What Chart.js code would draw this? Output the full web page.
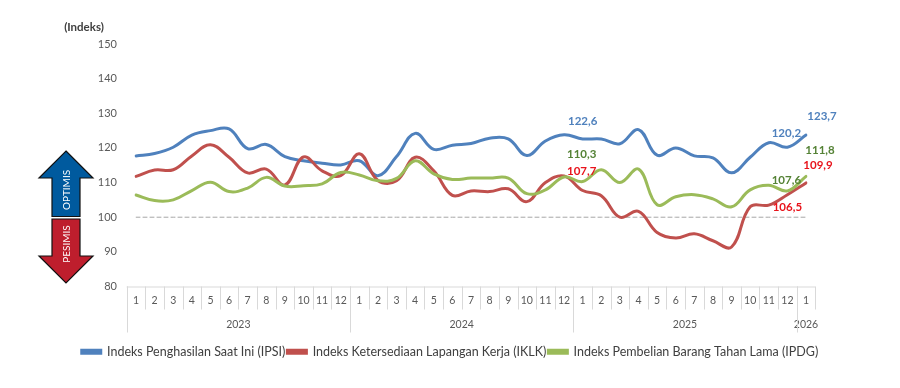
<!DOCTYPE html>
<html lang="id">

<head>
    <meta charset="UTF-8">
    <title>Indeks Keyakinan Konsumen</title>
    <script src="https://cdn.jsdelivr.net/npm/chart.js"></script>
    <style>
        html, body { margin: 0; padding: 0; background: #fff; }
        canvas { display: block; }
    </style>
</head>

<body>
    <canvas id="chart" width="900" height="388"></canvas>

    <script>
        const months = [
            '1', '2', '3', '4', '5', '6', '7', '8', '9', '10', '11', '12',
            '1', '2', '3', '4', '5', '6', '7', '8', '9', '10', '11', '12',
            '1', '2', '3', '4', '5', '6', '7', '8', '9', '10', '11', '12',
            '1'
        ];
        const years = ['2023', '2024', '2025', '2026'];
        const monthsPerYear = [12, 12, 12, 1];

        const ipsi = [
            117.7, 118.4, 120.2, 123.7, 125.0, 125.5, 119.8, 121.0, 117.5, 116.3, 115.6, 115.1,
            116.3, 112.0, 117.5, 124.2, 119.6, 120.8, 121.3, 122.8, 122.6, 117.8, 122.0, 123.8,
            122.6, 122.6, 121.2, 125.3, 117.9, 120.0, 117.7, 117.1, 112.8, 117.3, 121.5, 120.2,
            123.7
        ];
        const iklk = [
            111.8, 113.6, 113.7, 117.7, 120.9, 117.3, 112.8, 113.9, 109.3, 117.4, 113.4, 112.0,
            118.3, 110.6, 110.5, 117.3, 113.4, 106.3, 107.6, 107.4, 108.2, 104.5, 110.0, 111.9,
            107.7, 106.2, 100.0, 101.7, 95.6, 94.0, 95.2, 93.2, 91.4, 103.0, 103.5, 106.5,
            109.9
        ];
        const ipdg = [
            106.4, 104.8, 105.0, 107.7, 110.1, 107.4, 108.4, 111.5, 109.0, 109.1, 109.6, 112.9,
            112.2, 110.5, 111.2, 116.3, 112.5, 110.9, 111.3, 111.3, 111.3, 106.8, 107.9, 111.6,
            110.3, 113.7, 110.0, 113.9, 103.6, 105.9, 106.5, 105.3, 103.0, 107.9, 109.2, 107.6,
            111.8
        ];
        const baseline = months.map(() => 100);

        // which point gets a value label, and how far the label sits from it
        const valueLabels = [
            { series: 0, index: 24, dx: 0, dy: -18, color: '#4f81bd' },
            { series: 0, index: 35, dx: -1, dy: -14, color: '#4f81bd' },
            { series: 0, index: 36, dx: 16, dy: -19, color: '#4f81bd' },
            { series: 1, index: 24, dx: -1, dy: -19, color: '#e8131b' },
            { series: 1, index: 35, dx: 0, dy: 13, color: '#e8131b' },
            { series: 1, index: 36, dx: 12, dy: -18, color: '#e8131b' },
            { series: 2, index: 24, dx: -1, dy: -27, color: '#548235' },
            { series: 2, index: 35, dx: -1, dy: -11, color: '#548235' },
            { series: 2, index: 36, dx: 14, dy: -26, color: '#548235' }
        ];

        const fontFamily = 'Lato, "Open Sans", sans-serif';

        function drawArrow(ctx, points, fill) {
            ctx.beginPath();
            points.forEach((p, i) => i ? ctx.lineTo(p[0], p[1]) : ctx.moveTo(p[0], p[1]));
            ctx.closePath();
            ctx.fillStyle = fill;
            ctx.strokeStyle = '#111';
            ctx.lineWidth = 1.2;
            ctx.lineJoin = 'miter';
            ctx.fill();
            ctx.stroke();
        }

        function drawRotated(ctx, text, x, y) {
            ctx.save();
            ctx.translate(x, y);
            ctx.rotate(-Math.PI / 2);
            ctx.fillStyle = '#fff';
            ctx.font = '10px ' + fontFamily;
            ctx.textAlign = 'center';
            ctx.textBaseline = 'middle';
            ctx.fillText(text, 0, 0);
            ctx.restore();
        }

        const extras = {
            id: 'extras',
            afterDraw(chart) {
                const ctx = chart.ctx;
                const xs = chart.scales.x;
                const top = chart.chartArea.bottom;
                const step = xs.getPixelForValue(1) - xs.getPixelForValue(0);
                const edge = i => xs.getPixelForValue(0) - step / 2 + i * step;

                ctx.save();

                // category table under the plot
                ctx.strokeStyle = '#d9d9d9';
                ctx.lineWidth = 1;
                ctx.beginPath();
                ctx.moveTo(edge(0), top + 0.5);
                ctx.lineTo(edge(months.length), top + 0.5);
                for (let i = 0; i <= months.length; i++) {
                    ctx.moveTo(Math.round(edge(i)) + 0.5, top);
                    ctx.lineTo(Math.round(edge(i)) + 0.5, top + 23);
                }
                let start = 0;
                ctx.fillStyle = '#595959';
                ctx.font = '10.5px ' + fontFamily;
                ctx.textAlign = 'center';
                ctx.textBaseline = 'middle';
                years.forEach((year, i) => {
                    ctx.moveTo(Math.round(edge(start)) + 0.5, top);
                    ctx.lineTo(Math.round(edge(start)) + 0.5, top + 46);
                    const end = start + monthsPerYear[i];
                    ctx.fillText(year, (edge(start) + edge(end)) / 2, top + 38);
                    start = end;
                });
                ctx.stroke();

                // value labels
                ctx.font = 'bold 11.5px ' + fontFamily;
                valueLabels.forEach(l => {
                    const value = chart.data.datasets[l.series].data[l.index];
                    const p = chart.getDatasetMeta(l.series).data[l.index];
                    ctx.fillStyle = l.color;
                    ctx.fillText(value.toFixed(1).replace('.', ','), p.x + l.dx, p.y + l.dy);
                });

                // unit
                ctx.fillStyle = '#404040';
                ctx.font = 'bold 11.5px ' + fontFamily;
                ctx.fillText('(Indeks)', 84, 27);

                // optimis / pesimis arrows
                drawArrow(ctx, [[66, 151], [93, 178], [80, 178], [80, 216.5], [52, 216.5], [52, 178], [39, 178]], '#005a9e');
                drawArrow(ctx, [[52, 219], [80, 219], [80, 256], [93, 256], [66, 283], [39, 256], [52, 256]], '#be1e2d');
                drawRotated(ctx, 'OPTIMIS', 67, 190);
                drawRotated(ctx, 'PESIMIS', 67, 244);

                ctx.restore();
            }
        };

        new Chart(document.getElementById('chart').getContext('2d'), {
            type: 'line',
            data: {
                labels: months,
                datasets: [
                    // lower order is drawn on top: green over red over blue
                    { label: 'Indeks Penghasilan Saat Ini (IPSI)', data: ipsi, order: 3, borderColor: '#4f81bd', backgroundColor: '#4f81bd' },
                    { label: 'Indeks Ketersediaan Lapangan Kerja (IKLK)', data: iklk, order: 2, borderColor: '#c0504d', backgroundColor: '#c0504d' },
                    { label: 'Indeks Pembelian Barang Tahan Lama (IPDG)', data: ipdg, order: 1, borderColor: '#9bbb59', backgroundColor: '#9bbb59' },
                    { label: 'baseline', data: baseline, order: 4, borderColor: '#a6a6a6', borderWidth: 1, borderDash: [4, 3], tension: 0 }
                ]
            },
            options: {
                responsive: false,
                animation: false,
                layout: { padding: { top: 44, right: 0, bottom: 20, left: 0 } },
                elements: {
                    line: { borderWidth: 3, tension: 0.4, borderCapStyle: 'round' },
                    point: { radius: 0 }
                },
                scales: {
                    y: {
                        min: 80,
                        max: 150,
                        afterFit: s => { s.width = 136; },
                        grid: { display: false },
                        border: { display: false },
                        ticks: {
                            stepSize: 10,
                            padding: 11,
                            color: '#595959',
                            font: { family: fontFamily, size: 11 }
                        }
                    },
                    // empty axis on the right, only keeps room for the end labels
                    spacer: {
                        position: 'right',
                        min: 80,
                        max: 150,
                        afterFit: s => { s.width = 94; },
                        grid: { display: false },
                        border: { display: false },
                        ticks: { display: false }
                    },
                    x: {
                        afterFit: s => { s.height = 57; },
                        grid: { display: false },
                        border: { display: false },
                        ticks: {
                            autoSkip: false,
                            maxRotation: 0,
                            padding: 0,
                            color: '#595959',
                            font: { family: fontFamily, size: 10.5 }
                        }
                    }
                },
                plugins: {
                    tooltip: { enabled: false },
                    legend: {
                        position: 'bottom',
                        labels: {
                            filter: item => item.text !== 'baseline',
                            sort: (a, b) => a.datasetIndex - b.datasetIndex,
                            boxWidth: 19,
                            boxHeight: 3,
                            padding: 2,
                            color: '#404040',
                            font: { family: fontFamily, size: 12.5 }
                        }
                    }
                }
            },
            plugins: [extras]
        });
    </script>
</body>

</html>
